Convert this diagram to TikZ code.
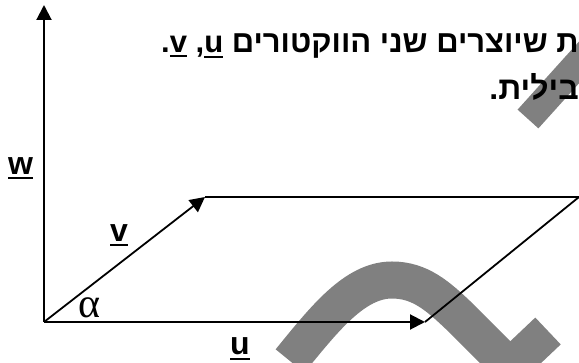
\documentclass[tikz,border=0pt]{standalone}
\usepackage{fontspec}
\setmainfont{Liberation Sans}
\newfontfamily\hebbold[Script=Hebrew]{Liberation Sans Bold}
\newfontfamily\latbold{Liberation Sans Bold}
\newfontfamily\alphafont{Liberation Serif}
\TeXXeTstate=1
\usetikzlibrary{arrows.meta}
\newcommand\ulett[1]{\vtop{\hbox{#1}\kern2.5pt\hrule height 2pt}}
\begin{document}
\begin{tikzpicture}[x=1pt,y=-1pt,
  vec/.style={line width=2pt,-{Triangle[length=15pt,width=15pt]}},
  edge/.style={line width=1.8pt},
  greystroke/.style={line width=37pt,draw=black!50,miter limit=10},
  txt/.style={inner sep=0pt,font=\fontsize{31}{36}\selectfont\hebbold},
  lbl/.style={inner sep=0pt,anchor=base,font=\fontsize{32}{36}\selectfont\latbold}]
\useasboundingbox (0,0) rectangle (579,363);
\begin{scope}
\clip (0,0) rectangle (579,363);
\draw[greystroke] (290,361) .. controls (325,318) and (355,280) .. (392,280)
  .. controls (420,280) and (438,296) .. (460,317) -- (510,367) -- (548,331);
\draw[greystroke,line width=28pt] (528,119) -- (610,28);
\end{scope}
\coordinate (O) at (44,322);
\coordinate (W) at (44,5);
\coordinate (U) at (425,322);
\coordinate (V) at (205,197);
\coordinate (C) at (579,197);
\draw[edge] (V) -- (C) -- (U);
\draw[vec] (O) -- (W);
\draw[vec] (O) -- (U);
\draw[vec,line width=1.8pt] (O) -- (V);
\node[txt,anchor=base west] (L1) at (161,53) {\beginR ת שיוצרים שני הווקטורים \ulett{u}, \ulett{v}.\endR};
\node[txt,anchor=base east,font=\fontsize{32}{36}\selectfont\hebbold] (L2) at (579,100) {\beginR בילית.\endR};
\node[lbl] (lw) at (20.5,175) {\ulett{w}};
\node[lbl] (lv) at (119,242) {\ulett{v}};
\node[lbl] (lu) at (240,355) {\ulett{u}};
\node[inner sep=0pt,anchor=base] (la) at (90,318) {\alphafont\fontsize{42}{46}\selectfont α};
\end{tikzpicture}
\end{document}
